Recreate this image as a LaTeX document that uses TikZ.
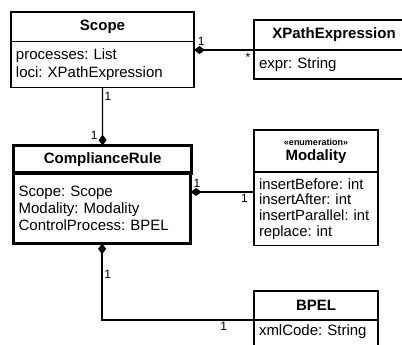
\documentclass[tikz,border=0pt]{standalone}
\usepackage{fontspec}
\setmainfont{Liberation Sans}
\frenchspacing
\usepackage{tikz}
\usetikzlibrary{arrows.meta}
\usetikzlibrary{positioning}

\tikzset{
    classhead/.style={draw, line width=1.6pt, outer sep=0pt, anchor=north west, inner sep=0pt,
        align=center, font=\fontsize{15}{18}\selectfont\bfseries},
    classbody/.style={draw, line width=1.6pt, outer sep=0pt, inner xsep=5pt, inner ysep=0pt,
        align=left},
    mult/.style={inner sep=1.5pt, font=\fontsize{12}{12}\selectfont},
    assoc/.style={line width=1.3pt},
    diam/.tip={Diamond[length=11pt, width=8pt]}
}

\begin{document}
\begin{tikzpicture}[x=1pt, y=-1pt]
        \useasboundingbox (0, 0) rectangle (402, 345);
        \clip (0, 0) rectangle (402, 345);

        \node[classhead, minimum width=183pt, minimum height=29.5pt] (scopehead) at (11, 12) {Scope};
        \node[classbody, minimum height=46pt, text width=173pt, font=\fontsize{15}{17.5}\selectfont,
            below=0pt of scopehead.south west, anchor=north west] (scopebody)
            {processes: List\\loci: XPathExpression};

        \node[classhead, minimum width=160pt, minimum height=30pt] (xphead) at (254, 20) {XPathExpression};
        \node[classbody, minimum height=29pt, text width=150pt, font=\fontsize{15}{17}\selectfont,
            below=0pt of xphead.south west, anchor=north west] (xpbody) {expr: String};

        \node[classhead, line width=3.2pt, minimum width=178pt, minimum height=27.4pt] (crhead)
            at (13.6, 145.6) {ComplianceRule};
        \node[classbody, line width=3.2pt, minimum height=70.4pt, text width=167pt,
            font=\fontsize{15}{16.7}\selectfont,
            below=0pt of crhead.south west, anchor=north west] (crbody)
            {Scope: Scope\\Modality: Modality\\ControlProcess: BPEL};

        \node[classhead, minimum width=124pt, minimum height=42pt] (modhead) at (254, 130)
            {{\fontsize{9}{10}\selectfont «enumeration»}\\[-3pt]Modality};
        \node[classbody, minimum height=73.5pt, text width=114pt, font=\fontsize{14.8}{15.7}\selectfont,
            below=0pt of modhead.south west, anchor=north west] (modbody)
            {insertBefore: int\\insertAfter: int\\insertParallel: int\\replace: int};

        \node[classhead, minimum width=124pt, minimum height=29pt] (bpelhead) at (254, 291) {BPEL};
        \node[classbody, minimum height=35pt, text width=114pt, text depth=14pt,
            font=\fontsize{15}{17}\selectfont,
            below=0pt of bpelhead.south west, anchor=north west] (bpelbody) {xmlCode: String};

        \draw[assoc, -diam] (scopebody.south) --
            node[mult, pos=0.15, right] {1}
            node[mult, pos=0.82, left, xshift=-3pt] {1} (crhead.north);
        \draw[assoc, -diam] (xpbody.north west) --
            node[mult, pos=0.1, below, yshift=-1pt] {*}
            node[mult, pos=0.88, above, yshift=2pt] {1} (xpbody.north west -| scopebody.east);
        \draw[assoc, -diam] ([yshift=-20pt]modbody.north west) --
            node[mult, pos=0.15, below] {1}
            node[mult, pos=0.9, above, yshift=2pt] {1} ([yshift=-20pt]modbody.north west -| crbody.east);
        \draw[assoc, -diam] (bpelbody.north west) -|
            node[mult, pos=0.1, below] {1}
            node[mult, pos=0.8, right] {1} (crbody.south);
\end{tikzpicture}
\end{document}
